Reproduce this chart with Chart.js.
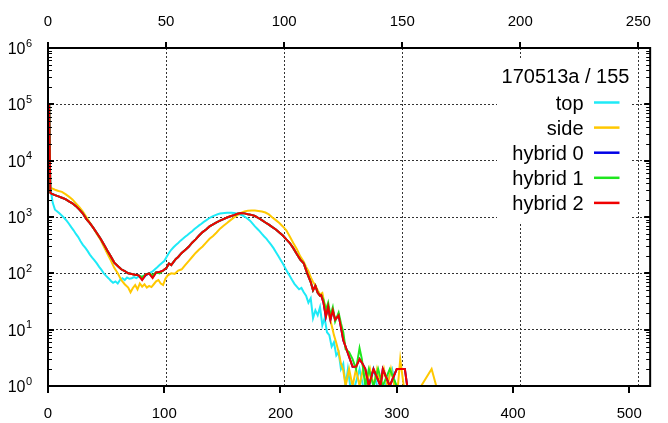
<!DOCTYPE html>
<html><head><meta charset="utf-8">
<script src="https://cdn.jsdelivr.net/npm/chart.js@4/dist/chart.umd.min.js"></script>
<style>html,body{margin:0;padding:0;background:#fff;overflow:hidden}</style>
</head><body>
<canvas id="c" width="668" height="423"></canvas>
<script>
// ---- data ----
const bottomTicks = [0, 100, 200, 300, 400, 500];
const topTicks = [0, 50, 100, 150, 200, 250];
const yExponents = [0, 1, 2, 3, 4, 5, 6];
const legendTitle = '170513a / 155';
const seriesNames = ['top', 'side', 'hybrid 0', 'hybrid 1', 'hybrid 2'];
const seriesColors = ['#1eeaf7', '#ffc800', '#0000e6', '#1ee61e', '#f00000'];

const topPts = [[1,100000],[2,3600],[3,2500],[4,1800],[6,1350],[8,1250],[10,1150],[12,1050],[14,960],[16,860],[18,760],[20,660],[22,580],[24,500],[26,440],[28,370],[30,320],[32,285],[34,250],[36,215],[38,190],[40,170],[42,150],[44,130],[46,115],[48,100],[50,90],[52,82],[54,74],[56,68],[58,72],[60,66],[62,76],[64,82],[66,76],[68,84],[70,80],[72,82],[74,86],[76,82],[78,88],[80,85],[82,90],[84,94],[86,99],[88,103],[90,108],[92,118],[94,128],[96,140],[98,152],[100,165],[102,195],[104,230],[106,262],[108,290],[110,318],[112,345],[114,380],[116,410],[118,445],[120,480],[122,520],[124,560],[126,610],[128,660],[130,710],[132,760],[134,820],[136,870],[138,930],[140,990],[142,1040],[144,1080],[146,1120],[148,1150],[150,1170],[152,1180],[154,1190],[156,1195],[158,1190],[160,1180],[162,1160],[164,1130],[166,1090],[168,1050],[170,990],[172,920],[174,850],[176,760],[178,680],[180,620],[182,560],[184,500],[186,450],[188,410],[190,360],[192,320],[194,280],[196,240],[198,205],[200,175],[202,150],[204,125],[206,105],[208,90],[210,76],[212,65],[214,58],[216,52],[218,55],[220,46],[222,40],[224,30],[226,36],[228,16],[230,22],[232,18],[234,25],[236,12],[238,16],[240,9],[242,8],[244,5],[246,6],[248,3.5],[250,4],[252,2],[254,2.5],[256,1],[258,2],[260,1],[264,1],[268,2],[271,1],[276,1],[280,2],[283,1],[290,1],[296,2],[299,1]];

const sidePts = [[1,100000],[2,3400],[3,3250],[6,3050],[9,2900],[12,2800],[15,2550],[18,2300],[21,2050],[24,1750],[27,1500],[30,1250],[33,1000],[36,800],[39,640],[42,500],[45,400],[48,300],[51,225],[54,170],[57,125],[60,100],[63,76],[66,64],[69,56],[71,46],[73,55],[75,62],[77,52],[79,66],[81,58],[83,64],[85,56],[87,60],[89,57],[91,64],[93,72],[95,76],[97,66],[99,62],[101,80],[103,92],[106,100],[109,98],[112,112],[115,118],[118,140],[121,165],[124,195],[127,230],[130,265],[133,300],[136,350],[139,410],[142,460],[145,530],[148,620],[151,700],[154,780],[157,880],[160,980],[163,1080],[166,1180],[169,1260],[172,1290],[175,1300],[178,1300],[181,1280],[184,1250],[187,1200],[190,1110],[193,980],[196,880],[199,780],[202,680],[205,580],[208,450],[211,345],[214,270],[217,200],[220,160],[222,130],[224,110],[226,85],[228,70],[230,62],[232,50],[234,42],[236,45],[238,28],[240,22],[242,17],[244,12],[246,8],[248,5.8],[250,4],[252,2.5],[254,1.9],[256,1],[259,2],[262,1],[265,2],[268,1],[271,2],[274,1],[277,2],[280,1],[283,2],[286,1],[289,2],[292,1],[295,2],[298,1],[301,1],[303,3],[306,1],[315,1],[321,1],[330,2],[334,1]];

const hybrid0Pts = [[1,100000],[2,2700],[3,2600],[6,2450],[9,2320],[12,2200],[15,2080],[18,1900],[21,1750],[24,1560],[27,1350],[30,1150],[33,920],[36,780],[39,640],[42,520],[45,420],[48,330],[51,255],[54,200],[57,155],[60,135],[63,118],[66,110],[69,100],[72,97],[75,94],[78,92],[81,78],[84,92],[87,100],[90,85],[93,104],[96,106],[99,112],[102,125],[104,150],[106,140],[108,158],[110,180],[112,195],[115,230],[118,260],[121,295],[124,350],[127,400],[130,470],[133,540],[136,600],[139,680],[142,740],[145,800],[148,860],[151,920],[154,980],[157,1030],[160,1080],[163,1140],[166,1180],[169,1160],[172,1120],[175,1090],[178,1040],[181,960],[184,880],[187,800],[190,730],[193,660],[196,600],[199,530],[202,470],[205,400],[208,345],[211,280],[214,220],[217,175],[220,150],[223,100],[226,70],[228,50],[230,60],[232,45],[234,40],[235,41],[237,30],[239,17],[241,26],[243,15],[245,22],[247,15],[250,18],[252,11],[254,6.5],[256,5],[259,3.3],[262,2.2],[265,2.2],[268,3],[270,2.6],[273,2],[276,1],[280,2],[286,1],[288,2],[294,1],[300,2],[307,2],[309,1]];

const hybrid1Pts = [[1,100000],[2,2700],[3,2600],[6,2450],[9,2320],[12,2200],[15,2080],[18,1900],[21,1750],[24,1560],[27,1350],[30,1150],[33,920],[36,780],[39,640],[42,520],[45,420],[48,330],[51,255],[54,200],[57,155],[60,135],[63,118],[66,110],[69,100],[72,97],[75,94],[78,92],[81,86],[84,95],[87,100],[90,92],[93,104],[96,100],[99,112],[102,125],[104,150],[106,140],[108,160],[110,180],[112,195],[115,230],[118,260],[121,295],[124,350],[127,400],[130,470],[133,540],[136,600],[139,680],[142,740],[145,800],[148,860],[151,920],[154,980],[157,1030],[160,1080],[163,1140],[166,1180],[169,1160],[172,1120],[175,1090],[178,1040],[181,960],[184,880],[187,800],[190,730],[193,660],[196,600],[199,530],[202,470],[205,400],[208,345],[211,280],[214,220],[217,175],[220,150],[223,100],[226,70],[228,50],[230,60],[232,45],[234,40],[235,41],[237,34],[239,22],[241,30],[243,18],[245,25],[247,14],[250,20],[252,13],[254,9],[256,4.5],[259,4],[262,3],[265,2],[268,4.7],[270,3],[273,1],[276,2],[280,1],[284,2],[288,1],[294,2],[300,1]];

const hybrid2Pts = [[1,100000],[2,2700],[3,2600],[6,2450],[9,2320],[12,2200],[15,2080],[18,1900],[21,1750],[24,1560],[27,1350],[30,1150],[33,920],[36,780],[39,640],[42,520],[45,420],[48,330],[51,255],[54,200],[57,155],[60,135],[63,118],[66,110],[69,100],[72,97],[75,94],[78,92],[81,76],[84,95],[87,100],[90,83],[93,104],[96,106],[99,112],[102,125],[104,150],[106,140],[108,160],[110,180],[112,195],[115,230],[118,260],[121,295],[124,350],[127,400],[130,470],[133,540],[136,600],[139,680],[142,740],[145,800],[148,860],[151,920],[154,980],[157,1030],[160,1080],[163,1140],[166,1180],[169,1160],[172,1120],[175,1090],[178,1040],[181,960],[184,880],[187,800],[190,730],[193,660],[196,600],[199,530],[202,470],[205,400],[208,345],[211,280],[214,220],[217,175],[220,150],[223,100],[226,70],[228,50],[230,60],[232,45],[234,40],[235,41],[237,30],[239,17],[241,26],[243,15],[245,22],[247,15],[250,18],[252,11],[254,6.5],[256,5],[259,3.3],[262,2.2],[265,2.2],[268,3],[270,2.6],[273,2],[276,1],[280,2],[286,1],[288,2],[294,1],[300,2],[307,2],[309,1]];

const allPts = [topPts, sidePts, hybrid0Pts, hybrid1Pts, hybrid2Pts];
const FONT = "'Liberation Sans', Arial, Helvetica, sans-serif";

// ---- decorations: frame, ticks, y labels, legend ----
const deco = {
  id: 'deco',
  beforeDatasetsDraw(chart) {
    const ctx = chart.ctx;
    ctx.save();
    ctx.fillStyle = '#fff';
    ctx.fillRect(497, 58, 133, 164);
    ctx.restore();
  },
  afterDatasetsDraw(chart) {
    const {ctx, chartArea: a, scales} = chart;
    ctx.save();
    ctx.strokeStyle = '#000';
    ctx.lineWidth = 2;
    ctx.strokeRect(a.left, a.top, a.right - a.left, a.bottom - a.top);
    ctx.beginPath();
    bottomTicks.forEach(v => {
      const px = Math.round(scales.x.getPixelForValue(v));
      ctx.moveTo(px, a.bottom); ctx.lineTo(px, a.bottom + 7);
    });
    topTicks.forEach(v => {
      const px = Math.round(scales.x2.getPixelForValue(v));
      ctx.moveTo(px, a.top - 6); ctx.lineTo(px, a.top);
    });
    yExponents.forEach(e => {
      const py = Math.round(scales.y.getPixelForValue(Math.pow(10, e)));
      ctx.moveTo(a.left, py); ctx.lineTo(a.left + 6, py);
      ctx.moveTo(a.right, py); ctx.lineTo(a.right - 6, py);
    });
    ctx.stroke();
    ctx.lineWidth = 1;
    ctx.beginPath();
    yExponents.slice(0, -1).forEach(e => {
      for (let m = 2; m <= 9; m++) {
        const py = Math.round(scales.y.getPixelForValue(m * Math.pow(10, e))) + 0.5;
        ctx.moveTo(a.left, py); ctx.lineTo(a.left + 4, py);
        ctx.moveTo(a.right, py); ctx.lineTo(a.right - 4, py);
      }
    });
    ctx.stroke();
    // y labels 10^n
    ctx.fillStyle = '#000';
    yExponents.forEach(e => {
      const py = scales.y.getPixelForValue(Math.pow(10, e));
      ctx.font = '16px ' + FONT;
      ctx.textAlign = 'right';
      ctx.textBaseline = 'alphabetic';
      ctx.fillText('10', 25.5, py + 6);
      ctx.font = '11px ' + FONT;
      ctx.textAlign = 'left';
      ctx.fillText(String(e), 26, py - 1.5);
    });
    ctx.restore();
  },
  afterDraw(chart) {
    const ctx = chart.ctx;
    ctx.save();
    ctx.fillStyle = '#000';
    ctx.font = '20px ' + FONT;
    ctx.textBaseline = 'alphabetic';
    ctx.textAlign = 'center';
    ctx.fillText(legendTitle, 565.5, 82.5);
    seriesNames.forEach((name, i) => {
      const y = 102.5 + 25.1 * i;
      ctx.textAlign = 'right';
      ctx.fillStyle = '#000';
      ctx.fillText(name, 583.5, y + 7);
      ctx.strokeStyle = seriesColors[i];
      ctx.lineWidth = 2.5;
      ctx.beginPath();
      ctx.moveTo(594, y); ctx.lineTo(619.5, y);
      ctx.stroke();
    });
    ctx.restore();
  }
};

const tickFont = {family: FONT, size: 15};

new Chart(document.getElementById('c'), {
  type: 'line',
  data: {
    datasets: allPts.map((pts, i) => ({
      label: seriesNames[i],
      data: pts.map(p => ({x: p[0], y: p[1]})),
      borderColor: seriesColors[i],
      backgroundColor: seriesColors[i],
      borderWidth: 2,
      pointRadius: 0,
      tension: 0,
      fill: false,
      xAxisID: 'x',
      yAxisID: 'y',
      order: 4 - i
    }))
  },
  options: {
    responsive: false,
    animation: false,
    devicePixelRatio: 1,
    layout: {padding: {left: 0, right: 7, top: 0, bottom: 0}},
    plugins: {legend: {display: false}, tooltip: {enabled: false}},
    scales: {
      x: {
        type: 'linear', position: 'bottom', min: 0, max: 518,
        afterBuildTicks: s => { s.ticks = bottomTicks.map(v => ({value: v})); },
        afterFit: s => { s.height = 37; },
        grid: {display: false, drawTicks: false},
        border: {display: false},
        ticks: {padding: 19, font: tickFont, color: '#000', maxRotation: 0, autoSkip: false}
      },
      x2: {
        type: 'linear', position: 'top', min: 0, max: 255,
        afterBuildTicks: s => { s.ticks = topTicks.map(v => ({value: v})); },
        afterFit: s => { s.height = 48; },
        grid: {color: '#333', lineWidth: 1, drawTicks: false},
        border: {display: false, dash: [2, 2]},
        ticks: {padding: 17, font: tickFont, color: '#000', maxRotation: 0, autoSkip: false}
      },
      y: {
        type: 'logarithmic', position: 'left', min: 1, max: 1000000,
        afterBuildTicks: s => { s.ticks = yExponents.map(e => ({value: Math.pow(10, e), major: true})); },
        afterFit: s => { s.width = 48; },
        grid: {color: '#333', lineWidth: 1, drawTicks: false},
        border: {display: false, dash: [2, 2]},
        ticks: {display: false}
      }
    }
  },
  plugins: [deco]
});
</script>
</body></html>
